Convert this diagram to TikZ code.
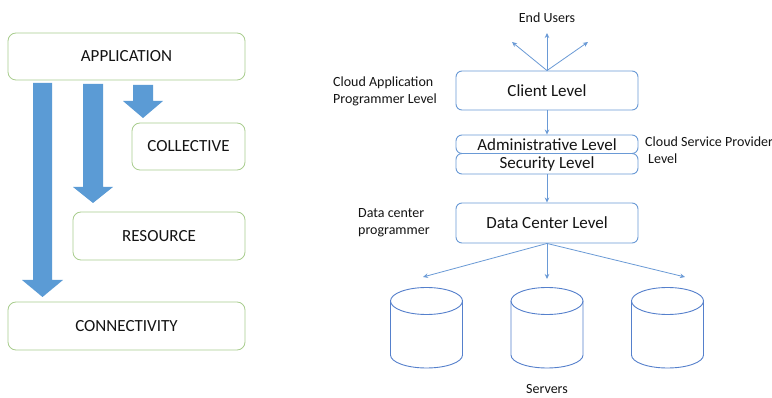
\documentclass[tikz,border=0pt]{standalone}
\usepackage{fontspec}
\setmainfont{Carlito}
\usetikzlibrary{arrows.meta}
\definecolor{arrowblue}{HTML}{5B9BD5}
\definecolor{boxgreen}{HTML}{A9CD8E}
\definecolor{boxblue}{HTML}{6A9AD6}
\definecolor{lineblue}{HTML}{6A9AD6}
\definecolor{cylblue}{HTML}{5580CC}
\definecolor{txt}{HTML}{141414}
\begin{document}
\begin{tikzpicture}[x=1pt,y=-1pt,
  lbox/.style={draw=boxgreen, line width=0.8pt, rounded corners=8pt, fill=white, inner sep=0pt},
  rbox/.style={draw=boxblue, line width=0.9pt, rounded corners=6pt, inner sep=0pt, minimum width=182pt},
  big/.style={font=\fontsize{17}{20}\selectfont, text=txt},
  small/.style={font=\fontsize{14}{17}\selectfont, text=txt, align=left, inner sep=0pt},
  conn/.style={draw=lineblue, line width=0.8pt, -{Stealth[length=5pt,width=4.5pt]}},
  blockarrow/.style={fill=arrowblue},
  cyl/.style={draw=cylblue, line width=0.9pt}]
\useasboundingbox[fill=white] (0,0) rectangle (772,398);

% ---------- left: layered architecture ----------
\node[lbox, big, minimum width=237pt, minimum height=47pt] (app) at (126.5,56.5) {APPLICATION};
\node[lbox, big, minimum width=113pt, minimum height=47pt] (coll) at (188.5,146.5) {COLLECTIVE};
\node[lbox, big, minimum width=172pt, minimum height=48pt] (res) at (159,236) {RESOURCE};
\node[lbox, big, minimum width=237pt, minimum height=48pt] (conn) at (126.5,326) {CONNECTIVITY};

% block arrows
\fill[blockarrow] (33,83) -- (52,83) -- (52,280) -- (63,280) -- (42.5,297) -- (22,280) -- (33,280) -- cycle;
\fill[blockarrow] (83,84) -- (103,84) -- (103,187) -- (113,187) -- (93,203) -- (73,187) -- (83,187) -- cycle;
\fill[blockarrow] (133,85) -- (153,85) -- (153,101) -- (163,101) -- (143,118) -- (123,101) -- (133,101) -- cycle;

% ---------- right: cloud levels ----------
\node[small, anchor=center] (eulabel) at (547,18) {End Users};
\coordinate (eu1) at (512,42);
\coordinate (eu2) at (547,33);
\coordinate (eu3) at (588,42);

\node[rbox, big, minimum height=39pt] (client) at (547,90.5) {Client Level};
\node[rbox, big, minimum height=18.5pt] (admin) at (547,144.25) {Administrative Level};
\node[rbox, big, minimum height=20.5pt] (sec) at (547,163.75) {Security Level};
\node[rbox, big, minimum height=40pt] (dc) at (547,223) {Data Center Level};

\node[small, anchor=west] (capl) at (333,91.5) {Cloud Application\\Programmer Level};
\node[small, anchor=west] (cspl) at (645,150.5) {Cloud Service Provider\\\hspace*{3pt}Level};
\node[small, anchor=west] (dcpl) at (358,222.5) {Data center\\programmer};

\draw[conn] (client.north) -- (eu1);
\draw[conn] (client.north) -- (eu2);
\draw[conn] (client.north) -- (eu3);
\draw[conn] (client.south) -- (admin.north);
\draw[conn] (sec.south) -- (dc.north);

\coordinate (s1) at (423,277);
\coordinate (s2) at (547,279);
\coordinate (s3) at (685,277);
\draw[conn] (dc.south) -- (s1);
\draw[conn] (dc.south) -- (s2);
\draw[conn] (dc.south) -- (s3);

% servers (cylinders)
\foreach \c in {426.5,547,667.5}{
  \draw[cyl] (\c,301) ellipse [x radius=36pt, y radius=13.5pt];
  \draw[cyl] ({\c-36},301) -- ({\c-36},355) arc[start angle=180, end angle=360, x radius=36pt, y radius=13pt] -- ({\c+36},301);
}
\node[small] (servers) at (547,389) {Servers};
\end{tikzpicture}
\end{document}
